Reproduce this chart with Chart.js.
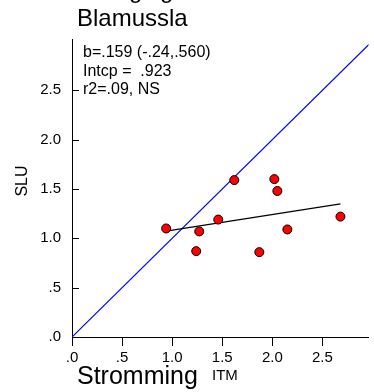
<!DOCTYPE html>
<html>
<head>
<meta charset="utf-8">
<script src="https://cdn.jsdelivr.net/npm/chart.js@4.4.1/dist/chart.umd.min.js"></script>
<style>
  html, body { margin: 0; padding: 0; background: #fff; }
  #wrap { width: 374px; height: 392px; }
</style>
</head>
<body>
<div id="wrap"><canvas id="chart"></canvas></div>
<script>
// data
var itm = [0.94, 1.27, 1.24, 1.46, 1.62, 1.87, 2.02, 2.05, 2.15, 2.68];
var slu = [1.10, 1.07, 0.87, 1.19, 1.59, 0.86, 1.60, 1.48, 1.09, 1.22];
var slope = 0.159;
var intercept = 0.923;
var tickVals = [0, 0.5, 1.0, 1.5, 2.0, 2.5];
var statLines = ['b=.159 (-.24,.560)', 'Intcp =  .923', 'r2=.09, NS'];

var FONT = 'Arial, "Liberation Sans", sans-serif';

var points = itm.map(function (x, i) { return { x: x, y: slu[i] }; });
var xMin = Math.min.apply(null, itm), xMax = Math.max.apply(null, itm);
var fitLine = [
    { x: xMin, y: intercept + slope * xMin },
    { x: xMax, y: intercept + slope * xMax }
];
var idLine = [{ x: 0, y: 0 }, { x: 3.2, y: 3.2 }];

function fmt(v) {
    var s = v.toFixed(1);
    return s.charAt(0) === '0' ? s.slice(1) : s;
}

function keepTicks(scale) {
    scale.ticks = tickVals.map(function (v) { return { value: v }; });
}

var extras = {
    id: 'extras',
    afterDraw: function (chart) {
        var c = chart.ctx, y = chart.scales.y, area = chart.chartArea;
        c.save();
        // y ticks point inward
        c.strokeStyle = '#000';
        c.lineWidth = 1;
        tickVals.forEach(function (v) {
            var py = Math.round(y.getPixelForValue(v)) + 0.5;
            c.beginPath();
            c.moveTo(area.left, py);
            c.lineTo(area.left + 7, py);
            c.stroke();
        });
        c.fillStyle = '#000';
        c.textBaseline = 'alphabetic';
        c.textAlign = 'left';
        // title, the line above it is cut off by the top edge
        c.font = '24px ' + FONT;
        c.fillText('g', 129, -2);
        c.fillText('g', 160, -2);
        c.fillText('Blamussla', 77, 26);
        // stats
        c.font = '16px ' + FONT;
        statLines.forEach(function (t, i) {
            c.fillText(t, 83, 57 + i * 18.5);
        });
        // axis titles
        c.font = '25px ' + FONT;
        c.fillText('Stromming', 77, 384);
        c.font = '15px ' + FONT;
        c.fillText('ITM', 212, 380);
        c.translate(27, 181);
        c.rotate(-Math.PI / 2);
        c.textAlign = 'center';
        c.font = '16px ' + FONT;
        c.fillText('SLU', 0, 0);
        c.restore();
    }
};

new Chart(document.getElementById('chart'), {
    type: 'scatter',
    data: {
        datasets: [
            {
                data: idLine,
                showLine: true,
                borderColor: '#0000ff',
                borderWidth: 1.2,
                pointRadius: 0,
                order: 3
            },
            {
                data: fitLine,
                showLine: true,
                borderColor: '#000',
                borderWidth: 1.3,
                pointRadius: 0,
                order: 2
            },
            {
                data: points,
                pointRadius: 4.5,
                pointBackgroundColor: '#ff0000',
                pointBorderColor: '#000',
                pointBorderWidth: 1,
                order: 1
            }
        ]
    },
    options: {
        responsive: true,
        maintainAspectRatio: false,
        animation: false,
        layout: { padding: { top: 39, right: 0, left: 0, bottom: 0 } },
        plugins: {
            legend: { display: false },
            tooltip: { enabled: false }
        },
        scales: {
            x: {
                type: 'linear',
                min: 0,
                max: 2.96,
                afterBuildTicks: keepTicks,
                afterFit: function (s) { s.height = 55; },
                grid: { drawOnChartArea: false, tickLength: 9, color: '#000' },
                border: { color: '#000', width: 1 },
                ticks: {
                    color: '#000',
                    padding: 3,
                    maxRotation: 0,
                    font: { family: FONT, size: 15 },
                    callback: function (v) { return fmt(v); }
                }
            },
            y: {
                type: 'linear',
                min: 0,
                max: 3.02,
                afterBuildTicks: keepTicks,
                afterFit: function (s) { s.width = 72; },
                grid: { display: true, drawOnChartArea: false, drawTicks: false },
                border: { color: '#000', width: 1 },
                ticks: {
                    color: '#000',
                    padding: 11,
                    font: { family: FONT, size: 15 },
                    callback: function (v) { return fmt(v); }
                }
            }
        }
    },
    plugins: [extras]
});
</script>
</body>
</html>
